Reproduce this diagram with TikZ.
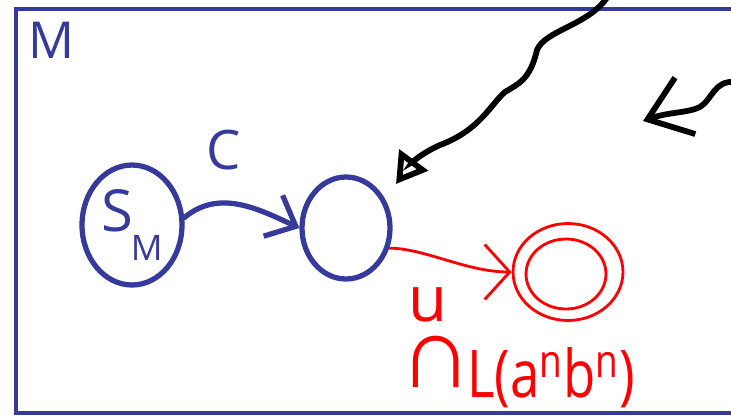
\documentclass[tikz,border=0pt]{standalone}
\usepackage{fontspec}
\setmainfont{Open Sans}
\newfontfamily\capfont{Liberation Sans}
\usetikzlibrary{arrows.meta, positioning, shapes.geometric}
\definecolor{inkBlue}{HTML}{353A9B}
\definecolor{inkRed}{HTML}{FF0000}
\definecolor{inkBlack}{HTML}{000000}
\tikzset{
  arrowB/.style={-{Straight Barb[length=5mm, width=9mm]}, inkBlue, line width=3pt,
                 line cap=round},
  arrowR/.style={-{Straight Barb[length=5mm, width=11mm]}, inkRed, line width=1.6pt},
  arrowK/.style={-{Triangle[open, length=6mm, width=7mm]}, inkBlack, line width=3.3pt,
                 line cap=round},
  arrowKb/.style={-{Straight Barb[length=8mm, width=12mm]}, inkBlack, line width=3.3pt,
                  line cap=round},
  stateB/.style={ellipse, draw=inkBlue, line width=3pt, inner sep=0pt},
  stateR/.style={ellipse, draw=inkRed, line width=1.6pt, inner sep=0pt},
  txtB/.style={text=inkBlue, inner sep=0pt},
  txtR/.style={text=inkRed, inner sep=0pt},
}
\begin{document}
\begin{tikzpicture}[x=0.02cm, y=-0.02cm]
    \useasboundingbox (0,0) rectangle (731,417);
    \draw[inkBlue, line width=2.8pt] (16,9) rectangle (760,413);
    \node[txtB, font=\fontsize{29}{29}\selectfont] (lblM) at (52,40) {M};
    \node[stateB, minimum width=2cm, minimum height=2.4cm, text=inkBlue,
          font=\fontsize{33}{33}\selectfont] (sm) at (132,225)
      {S\kern-0.05cm\raisebox{-0.6cm}{\fontsize{20}{20}\selectfont M}};
    \node[stateB, minimum width=1.76cm, minimum height=2.04cm] (mid) at (346,228) {};
    \node[stateR, minimum width=2.2cm, minimum height=1.94cm] (acc) at (568,272) {};
    \node[stateR, minimum width=1.6cm, minimum height=1.4cm] (accin) at (566,274) {};
    \node[txtB, font=\fontsize{31}{31}\selectfont] (lblC) at (224,150) {C};
    \node[txtR, font=\fontsize{36}{36}\selectfont] (lblu) at (428,305) {u};
    \node[txtR, font=\fontsize{58}{58}\capfont] (lblcap) at (436,362) {∩};
    \node[txtR, font=\fontsize{30}{30}\selectfont] (lblL) at (551,378)
      {\scalebox{1}[1.25]{L(a\textsuperscript{n}b\textsuperscript{n})}};
    \coordinate (inA) at (608,-4);  \coordinate (hitA) at (396,184);
    \coordinate (inB) at (735,82);  \coordinate (hitB) at (643,121);
    \draw[arrowB] (sm.8) to[out=40, in=155] (mid.west);
    \draw[arrowR] (mid.-25) .. controls +(35,0) and +(-45,0) .. (acc.west);
    \draw[arrowK] (inA) .. controls (590,25) and (545,30) .. (537,50)
      .. controls (530,80) and (518,84) .. (505,92)
      .. controls (490,105) and (480,130) .. (440,145)
      .. controls (418,155) and (410,165) .. (hitA);
    \draw[arrowKb] (inB) .. controls (714,80) and (712,100) .. (700,107)
      .. controls (688,113) and (668,112) .. (hitB);
  \end{tikzpicture}
\end{document}
